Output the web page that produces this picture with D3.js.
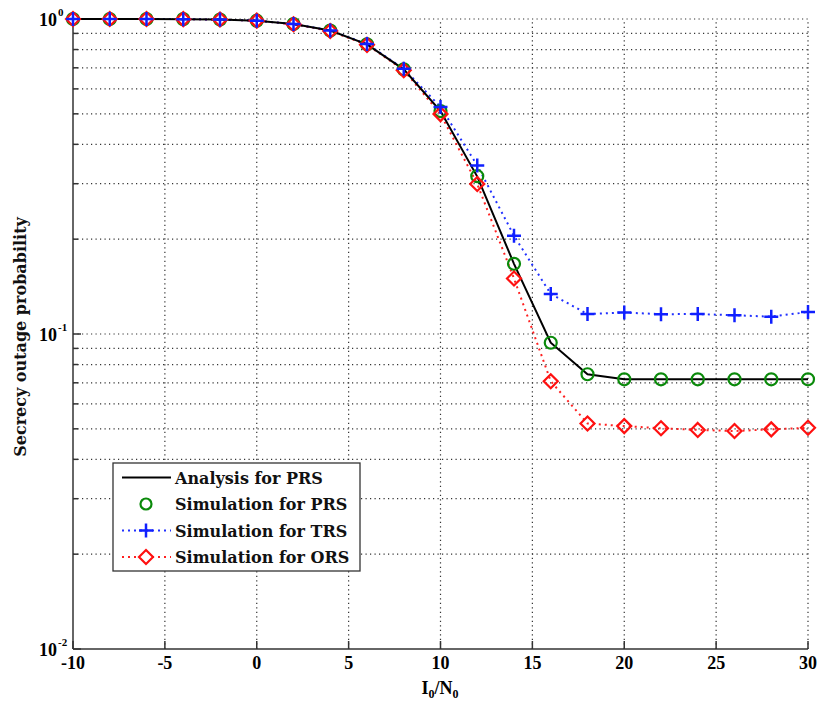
<!DOCTYPE html>
<html>
<head>
<meta charset="utf-8">
<script src="https://cdn.jsdelivr.net/npm/d3@7"></script>
<style>
  body { margin: 0; background: #fff; }
  svg { display: block; }
  .tick-label { font-family: "Liberation Serif", "Times New Roman", serif; font-weight: bold; font-size: 18px; fill: #000; }
  .legend-text { font-family: "DejaVu Serif", serif; font-weight: bold; font-size: 16px; fill: #111; }
  .axis-title { font-family: "DejaVu Serif", serif; font-weight: bold; font-size: 16px; fill: #111; }
</style>
</head>
<body>
<svg id="chart" width="818" height="707"></svg>
<script>
// I0/N0 sample points
const snr = [-10, -8, -6, -4, -2, 0, 2, 4, 6, 8, 10, 12, 14, 16, 18, 20, 22, 24, 26, 28, 30];

// Secrecy outage probability for each relay selection scheme
const prsAnalysis = [1.0, 1.0, 1.0, 0.999, 0.996, 0.988, 0.964, 0.919, 0.831, 0.692, 0.510, 0.316, 0.167, 0.0938, 0.0745, 0.0719, 0.0718, 0.0718, 0.0718, 0.0718, 0.0718];
const prsSim      = [1.0, 1.0, 1.0, 0.999, 0.996, 0.988, 0.964, 0.919, 0.831, 0.692, 0.510, 0.317, 0.167, 0.0938, 0.0745, 0.0718, 0.0718, 0.0718, 0.0718, 0.0718, 0.0718];
const trsSim      = [1.0, 1.0, 1.0, 0.999, 0.996, 0.988, 0.964, 0.920, 0.833, 0.695, 0.526, 0.343, 0.205, 0.134, 0.1157, 0.117, 0.1156, 0.1157, 0.1147, 0.1135, 0.1174];
const orsSim      = [1.0, 1.0, 1.0, 0.999, 0.996, 0.988, 0.962, 0.916, 0.828, 0.688, 0.499, 0.2995, 0.150, 0.0708, 0.0520, 0.0510, 0.0502, 0.0496, 0.0492, 0.0498, 0.0504];

const xTicks = [-10, -5, 0, 5, 10, 15, 20, 25, 30];
const yDecades = [1, 0.1, 0.01];
const yExponents = ["0", "-1", "-2"];
const legendLabels = ["Analysis for PRS", "Simulation for PRS", "Simulation for TRS", "Simulation for ORS"];

const W = 818, H = 707;
const margin = { left: 73, right: 10, top: 19, bottom: 58 };
const svg = d3.select("#chart");

const x = d3.scaleLinear().domain([-10, 30]).range([margin.left, W - margin.right]);
const y = d3.scaleLog().domain([0.01, 1]).range([H - margin.bottom, margin.top]);

// all log tick values (minor + decades)
const yAll = [];
for (let e = -2; e <= 0; e++) {
  for (let m = 1; m <= 9; m++) {
    const v = m * Math.pow(10, e);
    if (v >= 0.01 - 1e-12 && v <= 1 + 1e-12) yAll.push(v);
  }
}

// dotted grid
const grid = svg.append("g").attr("stroke", "#333").attr("stroke-width", 1.2)
  .attr("stroke-dasharray", "1.2,3.3");
grid.selectAll("line.v").data(xTicks.filter(d => d > -10)).enter().append("line")
  .attr("x1", d => x(d)).attr("x2", d => x(d))
  .attr("y1", y(0.01)).attr("y2", y(1));
grid.selectAll("line.h").data(yAll.filter(d => d > 0.01)).enter().append("line")
  .attr("x1", x(-10)).attr("x2", x(30))
  .attr("y1", d => y(d)).attr("y2", d => y(d));

// axes (left and bottom only, ticks pointing inward)
const axisG = svg.append("g").attr("stroke", "#333").attr("stroke-width", 1.5);
axisG.append("line").attr("x1", x(-10)).attr("x2", x(-10)).attr("y1", y(1)).attr("y2", y(0.01));
axisG.append("line").attr("x1", x(-10)).attr("x2", x(30)).attr("y1", y(0.01)).attr("y2", y(0.01));
axisG.selectAll("line.xt").data(xTicks).enter().append("line")
  .attr("x1", d => x(d)).attr("x2", d => x(d))
  .attr("y1", y(0.01)).attr("y2", y(0.01) - 8);
axisG.selectAll("line.yt").data(yAll).enter().append("line")
  .attr("x1", x(-10)).attr("x2", d => x(-10) + (yDecades.includes(d) ? 8 : 5))
  .attr("y1", d => y(d)).attr("y2", d => y(d));

// x tick labels
svg.append("g").selectAll("text").data(xTicks).enter().append("text")
  .attr("class", "tick-label")
  .attr("x", d => x(d)).attr("y", y(0.01) + 20)
  .attr("text-anchor", "middle")
  .text(d => d);

// y tick labels as 10^n
const yl = svg.append("g").selectAll("text").data(yDecades).enter().append("text")
  .attr("class", "tick-label")
  .attr("x", x(-10) - 16).attr("y", d => y(d) + 7)
  .attr("text-anchor", "end");
yl.append("tspan").text("10");
svg.append("g").selectAll("text").data(yDecades).enter().append("text")
  .attr("class", "tick-label")
  .style("font-size", "11px")
  .attr("x", x(-10) - 15).attr("y", (d, i) => y(d) - 3)
  .text((d, i) => yExponents[i]);

// series
const pts = arr => arr.map((v, i) => [snr[i], v]);
const line = d3.line().x(d => x(d[0])).y(d => y(d[1]));

svg.append("path").datum(pts(orsSim)).attr("d", line)
  .attr("fill", "none").attr("stroke", "#ff2020").attr("stroke-width", 2)
  .attr("stroke-dasharray", "2,4");
svg.append("path").datum(pts(trsSim)).attr("d", line)
  .attr("fill", "none").attr("stroke", "#2030ff").attr("stroke-width", 2)
  .attr("stroke-dasharray", "2,4");
svg.append("path").datum(pts(prsAnalysis)).attr("d", line)
  .attr("fill", "none").attr("stroke", "#000").attr("stroke-width", 2);

const diamond = (cx, cy, s) => `M${cx},${cy - s}L${cx + s},${cy}L${cx},${cy + s}L${cx - s},${cy}Z`;
const plus = (cx, cy, s) => `M${cx - s},${cy}H${cx + s}M${cx},${cy - s}V${cy + s}`;

svg.append("g").selectAll("circle").data(pts(prsSim)).enter().append("circle")
  .attr("cx", d => x(d[0])).attr("cy", d => y(d[1])).attr("r", 6)
  .attr("fill", "none").attr("stroke", "#0a8a0a").attr("stroke-width", 2.2);
svg.append("g").selectAll("path").data(pts(orsSim)).enter().append("path")
  .attr("d", d => diamond(x(d[0]), y(d[1]), 7))
  .attr("fill", "none").attr("stroke", "#ff1010").attr("stroke-width", 2.2);
svg.append("g").selectAll("path").data(pts(trsSim)).enter().append("path")
  .attr("d", d => plus(x(d[0]), y(d[1]), 7))
  .attr("fill", "none").attr("stroke", "#1020ff").attr("stroke-width", 2.5);

// legend
const lg = svg.append("g");
const lx = 113, ly = 463, lw = 247, lh = 108;
lg.append("rect").attr("x", lx).attr("y", ly).attr("width", lw).attr("height", lh)
  .attr("fill", "#fff").attr("stroke", "#333").attr("stroke-width", 1.3);
const rowY = [477.5, 504, 530.5, 557];
const styles = [
  { stroke: "#000", dash: null, marker: null },
  { stroke: null, dash: null, marker: "circle" },
  { stroke: "#2030ff", dash: "2,4", marker: "plus" },
  { stroke: "#ff2020", dash: "2,4", marker: "diamond" }
];
legendLabels.forEach((lab, i) => {
  const cy = rowY[i], st = styles[i];
  if (st.stroke) {
    lg.append("line").attr("x1", 122).attr("x2", 171).attr("y1", cy).attr("y2", cy)
      .attr("stroke", st.stroke).attr("stroke-width", 2)
      .attr("stroke-dasharray", st.dash);
  }
  if (st.marker === "circle") {
    lg.append("circle").attr("cx", 146).attr("cy", cy).attr("r", 5.5)
      .attr("fill", "none").attr("stroke", "#0a8a0a").attr("stroke-width", 2.2);
  } else if (st.marker === "plus") {
    lg.append("path").attr("d", plus(146, cy, 7)).attr("fill", "none")
      .attr("stroke", "#1020ff").attr("stroke-width", 2.5);
  } else if (st.marker === "diamond") {
    lg.append("path").attr("d", diamond(146, cy, 7)).attr("fill", "#fff")
      .attr("stroke", "#ff1010").attr("stroke-width", 2.2);
  }
  lg.append("text").attr("class", "legend-text").attr("x", 175).attr("y", cy + 6).text(lab);
});

// axis titles
const xt = svg.append("text").attr("class", "tick-label").style("font-size", "18px")
  .attr("x", 440).attr("y", 694).attr("text-anchor", "middle");
xt.append("tspan").text("I");
xt.append("tspan").attr("dy", 4).style("font-size", "12px").text("0");
xt.append("tspan").attr("dy", -4).text("/N");
xt.append("tspan").attr("dy", 4).style("font-size", "12px").text("0");

svg.append("text").attr("class", "axis-title")
  .attr("transform", `translate(26,${337}) rotate(-90)`)
  .attr("text-anchor", "middle").text("Secrecy outage probability");
</script>
</body>
</html>
